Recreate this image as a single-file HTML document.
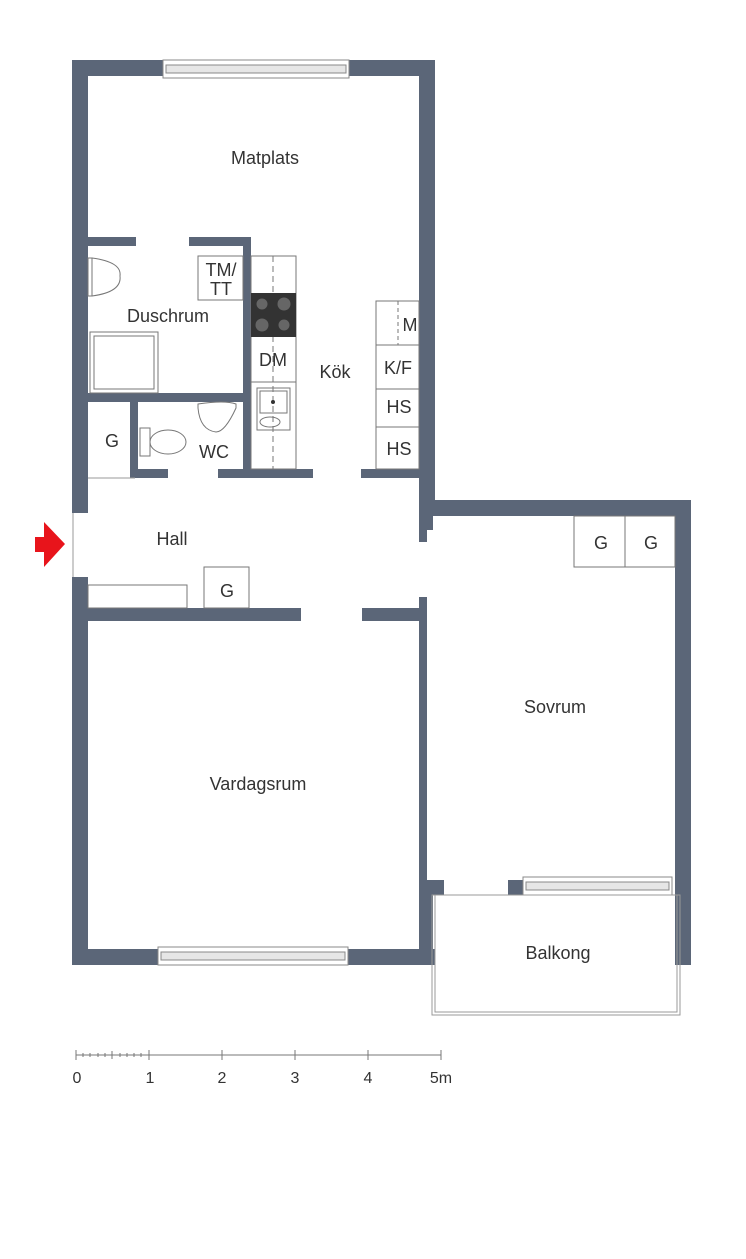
<!DOCTYPE html>
<html><head><meta charset="utf-8"><style>
html,body{margin:0;padding:0;background:#fff;}
svg{display:block;}
text{font-family:"Liberation Sans",sans-serif;fill:#333;}
</style></head><body>
<svg width="746" height="1259" viewBox="0 0 746 1259" xmlns="http://www.w3.org/2000/svg">
<g fill="#5b6678">
<!-- outer left -->
<rect x="72" y="60" width="16" height="453"/>
<rect x="72" y="577" width="16" height="388"/>
<!-- top -->
<rect x="72" y="60" width="363" height="16"/>
<!-- right upper -->
<rect x="419" y="60" width="16" height="456"/>
<rect x="419" y="500" width="272" height="16"/>
<rect x="419" y="500" width="8" height="42"/>
<rect x="427" y="516" width="6" height="14"/>
<!-- sovrum right -->
<rect x="675" y="500" width="16" height="465"/>
<!-- sovrum left / vardagsrum right -->
<rect x="419" y="597" width="8" height="368"/>
<rect x="419" y="880" width="25" height="15"/>
<rect x="419" y="895" width="14" height="70"/>
<rect x="508" y="880" width="15" height="15"/>
<!-- bottom -->
<rect x="72" y="949" width="363" height="16"/>
<!-- hall lower wall -->
<rect x="72" y="608" width="229" height="13"/>
<rect x="362" y="608" width="65" height="13"/>
<!-- hall upper walls -->
<rect x="135" y="469" width="33" height="9"/>
<rect x="218" y="469" width="95" height="9"/>
<rect x="361" y="469" width="66" height="9"/>
<!-- bathroom -->
<rect x="88" y="237" width="48" height="9"/>
<rect x="189" y="237" width="62" height="9"/>
<rect x="243" y="237" width="8" height="241"/>
<rect x="88" y="393" width="163" height="9"/>
<rect x="130" y="402" width="8" height="76"/>
</g>
<!-- windows -->
<g fill="#fff" stroke="#888" stroke-width="1">
<rect x="163" y="60" width="186" height="18"/>
<rect x="166" y="65" width="180" height="8" fill="#e6e6e6"/>
<rect x="158" y="947" width="190" height="18"/>
<rect x="161" y="952" width="184" height="8" fill="#e6e6e6"/>
<rect x="523" y="877" width="149" height="18"/>
<rect x="526" y="882" width="143" height="8" fill="#e6e6e6"/>
</g>
<!-- door line -->
<line x1="73" y1="513" x2="73" y2="577" stroke="#999" stroke-width="1"/>
<!-- arrow -->
<polygon points="35,537 44,537 44,522 65,544 44,567 44,552 35,552" fill="#e8141b"/>
<!-- fixtures -->
<g fill="none" stroke="#777" stroke-width="1">
<rect x="198" y="256" width="45" height="44"/>
<rect x="251" y="256" width="45" height="213"/>
<line x1="273" y1="256" x2="273" y2="469" stroke-dasharray="6,4"/>
<rect x="376" y="301" width="43" height="168"/>
<line x1="376" y1="345" x2="419" y2="345"/>
<line x1="376" y1="389" x2="419" y2="389"/>
<line x1="376" y1="427" x2="419" y2="427"/>
<line x1="398" y1="301" x2="398" y2="345" stroke-dasharray="4,3"/>
<line x1="251" y1="382" x2="296" y2="382"/>
<rect x="257" y="388" width="33" height="42"/>
<rect x="260" y="391" width="27" height="22"/>
<ellipse cx="270" cy="422" rx="10" ry="5"/>
<rect x="90" y="332" width="68" height="61"/>
<rect x="94" y="336" width="60" height="53"/>
<path d="M92,258 Q122,262 120,276 Q122,292 92,296"/>
<rect x="88" y="258" width="4" height="38"/>
<path d="M198,404 Q225,400 236,404 L236,408 Q225,432 216,432 Q200,430 198,408 Z"/>
<rect x="140" y="428" width="10" height="28"/>
<ellipse cx="168" cy="442" rx="18" ry="12"/>
<rect x="88" y="478" width="47" height="0"/>
<rect x="88" y="585" width="99" height="23"/>
<rect x="204" y="567" width="45" height="41"/>
<rect x="574" y="516" width="51" height="51"/>
<rect x="625" y="516" width="50" height="51"/>
</g>
<line x1="88" y1="478" x2="135" y2="478" stroke="#999"/>
<rect x="251" y="293" width="45" height="44" fill="#333"/>
<g fill="#666"><circle cx="262" cy="304" r="5.5"/><circle cx="284" cy="304" r="6.5"/><circle cx="262" cy="325" r="6.5"/><circle cx="284" cy="325" r="5.5"/></g>
<circle cx="273" cy="402" r="2" fill="#333"/>
<!-- balcony -->
<rect x="432" y="895" width="248" height="120" fill="none" stroke="#999" stroke-width="1"/>
<rect x="435" y="895" width="242" height="117" fill="none" stroke="#999" stroke-width="1"/>
<!-- labels -->
<g font-size="18" text-anchor="middle">
<text x="265" y="164">Matplats</text>
<text x="168" y="322">Duschrum</text>
<text x="335" y="378">Kök</text>
<text x="172" y="545">Hall</text>
<text x="555" y="713">Sovrum</text>
<text x="258" y="790">Vardagsrum</text>
<text x="558" y="959">Balkong</text>
<text x="221" y="276">TM/</text>
<text x="221" y="295">TT</text>
<text x="273" y="366">DM</text>
<text x="410" y="331">M</text>
<text x="398" y="374">K/F</text>
<text x="399" y="413">HS</text>
<text x="399" y="455">HS</text>
<text x="112" y="447">G</text>
<text x="214" y="458">WC</text>
<text x="227" y="597">G</text>
<text x="601" y="549">G</text>
<text x="651" y="549">G</text>
</g>
<!-- scale -->
<g stroke="#777" stroke-width="1">
<line x1="76" y1="1055" x2="441" y2="1055"/>
<line x1="76" y1="1050" x2="76" y2="1060"/>
<line x1="149" y1="1050" x2="149" y2="1060"/>
<line x1="222" y1="1050" x2="222" y2="1060"/>
<line x1="295" y1="1050" x2="295" y2="1060"/>
<line x1="368" y1="1050" x2="368" y2="1060"/>
<line x1="441" y1="1050" x2="441" y2="1060"/>
<line x1="112" y1="1051" x2="112" y2="1059"/>
<path d="M83,1053v4M90,1053v4M98,1053v4M105,1053v4M120,1053v4M127,1053v4M134,1053v4M141,1053v4"/>
</g>
<g font-size="16" text-anchor="middle">
<text x="77" y="1083">0</text><text x="150" y="1083">1</text><text x="222" y="1083">2</text><text x="295" y="1083">3</text><text x="368" y="1083">4</text><text x="441" y="1083">5m</text>
</g>
</svg>
</body></html>
